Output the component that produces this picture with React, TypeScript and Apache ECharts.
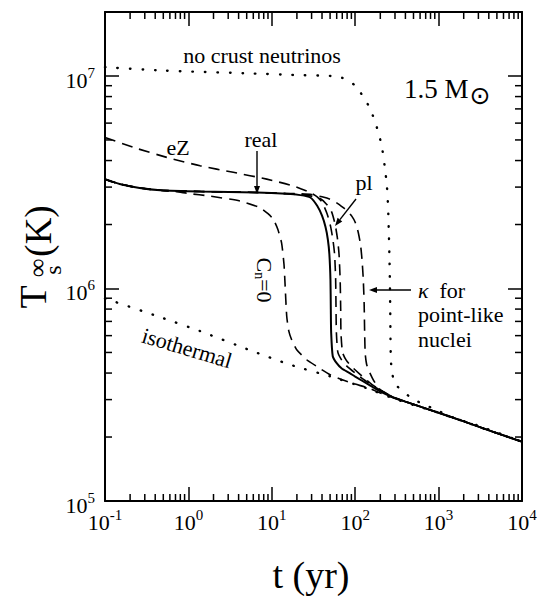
import React, { useEffect, useRef } from 'react';
import * as echarts from 'echarts';

const FONT = "'Liberation Serif', 'Times New Roman', serif";

// x: time t (yr), y: surface temperature T (K)
const X_MIN = 0.1;
const X_MAX = 1e4;
const Y_MIN = 1e5;
const Y_MAX = 2e7;

const realT = [0.1, 0.15, 0.26, 0.46, 1.4, 6.6, 15, 22, 29, 35, 40, 44, 47, 49, 50.5, 51, 51.5, 53.8, 60, 69, 86, 100, 150, 200, 300, 500, 1000, 2000, 4000, 10000];
const realK = [3.27e6, 3.1e6, 2.97e6, 2.9e6, 2.86e6, 2.83e6, 2.79e6, 2.75e6, 2.68e6, 2.45e6, 2.2e6, 1.95e6, 1.7e6, 1.45e6, 1.1e6, 8e5, 6.2e5, 4.8e5, 4.45e5, 4.2e5, 4.0e5, 3.85e5, 3.5e5, 3.27e5, 3.05e5, 2.85e5, 2.6e5, 2.37e5, 2.15e5, 1.9e5];

const ezT = [0.1, 0.22, 0.55, 1.38, 3.45, 8.7, 18, 28.7, 35, 40, 46, 50.8, 54, 56.6, 58.3, 58.9, 59.5, 62, 69, 80, 100, 130, 170, 220, 300, 500, 1000, 2000, 4000, 10000];
const ezK = [5.14e6, 4.61e6, 4.14e6, 3.78e6, 3.52e6, 3.27e6, 3.04e6, 2.83e6, 2.7e6, 2.55e6, 2.25e6, 1.95e6, 1.7e6, 1.45e6, 1.1e6, 8e5, 6.2e5, 5.0e5, 4.6e5, 4.3e5, 4.0e5, 3.7e5, 3.45e5, 3.25e5, 3.05e5, 2.85e5, 2.6e5, 2.37e5, 2.15e5, 1.9e5];

const plT = [0.1, 0.15, 0.26, 0.46, 1.4, 6.6, 15, 22, 30, 38, 45, 52, 57.5, 61.5, 64, 66, 67, 67.5, 70.5, 78, 90, 110, 150, 200, 300, 500, 1000, 2000, 4000, 10000];
const plK = [3.27e6, 3.1e6, 2.97e6, 2.9e6, 2.86e6, 2.83e6, 2.79e6, 2.76e6, 2.72e6, 2.65e6, 2.5e6, 2.3e6, 2.0e6, 1.7e6, 1.45e6, 1.1e6, 8e5, 6.2e5, 5.0e5, 4.6e5, 4.3e5, 4.0e5, 3.6e5, 3.32e5, 3.05e5, 2.85e5, 2.6e5, 2.37e5, 2.15e5, 1.9e5];

const kpT = [0.1, 0.15, 0.26, 0.46, 1.4, 6.6, 15, 22, 30, 40, 50, 60, 72, 82, 91, 100, 109, 116, 121, 125, 128, 130, 132, 137, 144, 160, 173, 198, 250, 300, 500, 1000, 2000, 4000, 10000];
const kpK = [3.27e6, 3.1e6, 2.97e6, 2.9e6, 2.86e6, 2.83e6, 2.8e6, 2.79e6, 2.77e6, 2.7e6, 2.63e6, 2.53e6, 2.4e6, 2.3e6, 2.19e6, 2.05e6, 1.83e6, 1.6e6, 1.35e6, 1.1e6, 8.5e5, 6e5, 4.9e5, 4.4e5, 4.15e5, 3.8e5, 3.6e5, 3.35e5, 3.17e5, 3.06e5, 2.85e5, 2.6e5, 2.37e5, 2.15e5, 1.9e5];

const cnT = [0.1, 0.15, 0.26, 0.46, 0.7, 1.0, 1.82, 4.16, 7.2, 9, 10.4, 11.8, 13.1, 14, 14.4, 15.1, 16, 17.3, 19.9, 26.2, 34.5, 50, 70, 100, 150, 200, 300, 500, 1000, 2000, 4000, 10000];
const cnK = [3.27e6, 3.1e6, 2.97e6, 2.9e6, 2.86e6, 2.8e6, 2.72e6, 2.58e6, 2.4e6, 2.25e6, 2.12e6, 1.9e6, 1.64e6, 1.3e6, 1.06e6, 7.4e5, 6.3e5, 5.74e5, 5.15e5, 4.62e5, 4.3e5, 3.93e5, 3.72e5, 3.55e5, 3.38e5, 3.22e5, 3.04e5, 2.85e5, 2.6e5, 2.37e5, 2.15e5, 1.9e5];

const isoT = [0.1, 0.46, 1.38, 5.5, 16.5, 50, 135, 300, 500, 1000, 2000, 4000, 10000];
const isoK = [8.98e5, 7.33e5, 6.3e5, 5.12e5, 4.38e5, 3.86e5, 3.4e5, 3.02e5, 2.83e5, 2.6e5, 2.37e5, 2.15e5, 1.9e5];

const ncT = [0.1, 0.5, 4.64, 20, 51, 70, 83.5, 100, 123, 143, 163, 185, 208, 225, 240, 248, 253, 257, 260, 263, 265, 268, 276, 295, 321, 380, 450, 600, 926, 1500, 3000, 10000];
const ncK = [1.1e7, 1.06e7, 1.03e7, 1.01e7, 1.0e7, 9.8e6, 9.5e6, 9.0e6, 8.07e6, 7.3e6, 6.5e6, 5.6e6, 4.69e6, 3.8e6, 3.04e6, 2.4e6, 1.84e6, 1.45e6, 1.14e6, 8e5, 5.8e5, 4.6e5, 4.02e5, 3.65e5, 3.46e5, 3.25e5, 3.1e5, 2.9e5, 2.69e5, 2.47e5, 2.26e5, 1.9e5];

// minor tick positions (2..9 x each decade)
const MULTS = [2, 3, 4, 5, 6, 7, 8, 9];
const X_DECADES = [0.1, 1, 10, 100, 1000];
const Y_DECADES = [1e5, 1e6];

const zip = (a: number[], b: number[]) => a.map((v, i) => [v, b[i]]);

const powLabel = (v: number) => {
  const e = Math.round(Math.log10(v));
  if (Math.abs(v - Math.pow(10, e)) / v > 1e-6) return '';
  return `{b|10}{s|${e}}`;
};

const labelRich = {
  b: { fontSize: 22, lineHeight: 30, fontFamily: FONT, color: '#000' },
  s: { fontSize: 15, lineHeight: 15, verticalAlign: 'top', fontFamily: FONT, color: '#000' },
};

const ANN = 22;

const txt = (x: number, y: number, text: string, size: number, align = 'center', extra: any = {}) => ({
  type: 'text',
  x,
  y,
  ...extra,
  style: {
    text,
    font: `${size}px ${FONT}`,
    fontSize: size,
    fontFamily: FONT,
    fill: '#000',
    align,
    verticalAlign: 'middle',
    ...(extra.style || {}),
  },
});

const arrow = (x1: number, y1: number, x2: number, y2: number) => {
  const dx = x2 - x1;
  const dy = y2 - y1;
  const len = Math.sqrt(dx * dx + dy * dy);
  const ux = dx / len;
  const uy = dy / len;
  const hl = 8;
  const hw = 3;
  const bx = x2 - ux * hl;
  const by = y2 - uy * hl;
  return [
    { type: 'line', shape: { x1, y1, x2: bx, y2: by }, style: { stroke: '#000', lineWidth: 1.4 } },
    {
      type: 'polygon',
      shape: { points: [[x2, y2], [bx - uy * hw, by + ux * hw], [bx + uy * hw, by - ux * hw]] },
      style: { fill: '#000' },
    },
  ];
};

export default function App() {
  const ref = useRef<HTMLDivElement>(null);
  useEffect(() => {
    if (!ref.current) return;
    const chart = echarts.init(ref.current, undefined, { renderer: 'svg' });

    const xMinor: number[][] = [];
    X_DECADES.forEach((d) => MULTS.forEach((m) => xMinor.push([m * d, Y_MIN])));
    const yMinor: number[][] = [];
    Y_DECADES.forEach((d) => MULTS.forEach((m) => yMinor.push([X_MIN, m * d])));

    const lineSeries = (name: string, data: number[][], type: any, width: number, extra: any = {}) => ({
      name,
      type: 'line',
      data,
      showSymbol: false,
      symbol: 'none',
      smooth: 0.2,
      silent: true,
      lineStyle: { color: '#000', width, type, ...extra },
      z: 3,
    });

    const tickLine = (x1: number, y1: number, x2: number, y2: number) => ({
      type: 'line',
      shape: { x1, y1, x2, y2 },
      style: { stroke: '#000', lineWidth: 1.5 },
    });

    const axisCommon = {
      type: 'log',
      logBase: 10,
      axisLine: { show: true, lineStyle: { color: '#000', width: 2 } },
      axisTick: { show: true, inside: true, length: 14, lineStyle: { color: '#000', width: 1.5 } },
      splitLine: { show: false },
      minorTick: { show: false },
    };

    const option: any = {
      animation: false,
      backgroundColor: '#fff',
      textStyle: { fontFamily: FONT },
      grid: { left: 105, right: 25, top: 12, bottom: 95, containLabel: false, outerBoundsMode: 'none' },
      xAxis: [
        {
          ...axisCommon,
          min: X_MIN,
          max: X_MAX,
          position: 'bottom',
          axisLabel: { show: true, margin: 6, formatter: powLabel, rich: labelRich, fontFamily: FONT, color: '#000' },
        },
        {
          ...axisCommon,
          min: X_MIN,
          max: X_MAX,
          position: 'top',
          axisLabel: { show: false },
        },
      ],
      yAxis: [
        {
          ...axisCommon,
          min: Y_MIN,
          max: Y_MAX,
          position: 'left',
          axisLabel: {
            show: true,
            margin: 10,
            formatter: powLabel,
            rich: labelRich,
            fontFamily: FONT,
            color: '#000',
            padding: [9, 0, 0, 0],
          },
        },
        {
          ...axisCommon,
          min: Y_MIN,
          max: Y_MAX,
          position: 'right',
          axisLabel: { show: false },
        },
      ],
      series: [
        {
          type: 'custom',
          silent: true,
          data: xMinor,
          clip: false,
          renderItem: (_p: any, api: any) => {
            const v = api.value(0);
            const b = api.coord([v, Y_MIN]);
            const t = api.coord([v, Y_MAX]);
            return {
              type: 'group',
              children: [tickLine(b[0], b[1], b[0], b[1] - 7), tickLine(t[0], t[1], t[0], t[1] + 7)],
            };
          },
        },
        {
          type: 'custom',
          silent: true,
          data: yMinor,
          clip: false,
          renderItem: (_p: any, api: any) => {
            const v = api.value(1);
            const l = api.coord([X_MIN, v]);
            const r = api.coord([X_MAX, v]);
            return {
              type: 'group',
              children: [tickLine(l[0], l[1], l[0] + 7, l[1]), tickLine(r[0], r[1], r[0] - 7, r[1])],
            };
          },
        },
        lineSeries('no crust neutrinos', zip(ncT, ncK), [0.5, 12], 2.4, { cap: 'round' }),
        lineSeries('isothermal', zip(isoT, isoK), [0.5, 12], 2.4, { cap: 'round' }),
        lineSeries('Cn=0', zip(cnT, cnK), [11, 7], 1.6),
        lineSeries('kappa point-like', zip(kpT, kpK), [11, 7], 1.6),
        lineSeries('eZ', zip(ezT, ezK), [11, 7], 1.6),
        lineSeries('pl', zip(plT, plK), [11, 7], 1.6),
        lineSeries('real', zip(realT, realK), 'solid', 2),
      ],
      graphic: [
        txt(262, 55, 'no crust neutrinos', ANN),
        txt(404, 89, '1.5 M', 27, 'left'),
        {
          type: 'text',
          x: 480,
          y: 95,
          style: {
            text: '\u2299',
            font: "25px 'DejaVu Sans'",
            fontSize: 25,
            fontFamily: 'DejaVu Sans',
            fill: '#000',
            align: 'center',
            verticalAlign: 'middle',
          },
        },
        txt(178, 147, 'eZ', ANN),
        txt(261, 139, 'real', ANN),
        ...arrow(257, 151, 257, 194),
        txt(364, 182, 'pl', ANN),
        ...arrow(356, 199, 335, 226),
        {
          type: 'text',
          x: 264,
          y: 280,
          rotation: -Math.PI / 2,
          style: {
            text: '{c|C}{n|n}{c|=0}',
            fill: '#000',
            font: `${ANN}px ${FONT}`,
            fontFamily: FONT,
            align: 'center',
            verticalAlign: 'middle',
            rich: {
              c: { fontSize: ANN, lineHeight: 24, fontFamily: FONT, fill: '#000' },
              n: { fontSize: 14, lineHeight: 14, verticalAlign: 'bottom', fontFamily: FONT, fill: '#000' },
            },
          },
        },
        {
          type: 'text',
          x: 418,
          y: 290,
          style: {
            text: '{k|\u03ba}  {f|for}',
            font: `${ANN}px ${FONT}`,
            fontSize: ANN,
            fontFamily: FONT,
            fill: '#000',
            align: 'left',
            verticalAlign: 'middle',
            rich: {
              k: { fontSize: ANN, fontStyle: 'italic', fontFamily: FONT, fill: '#000' },
              f: { fontSize: ANN, fontFamily: FONT, fill: '#000' },
            },
          },
        },
        ...arrow(411, 290, 369, 290),
        txt(418, 314, 'point-like', ANN, 'left'),
        txt(418, 339, 'nuclei', ANN, 'left'),
        txt(187, 348, 'isothermal', ANN, 'center', { rotation: -0.29 }),
        // y-axis title: T_s^inf (K)
        txt(33, 297, 'T', 38, 'center', { rotation: Math.PI / 2 }),
        txt(37, 268, '\u221e', 26, 'center', { rotation: Math.PI / 2 }),
        txt(53, 270, 's', 24, 'center', { rotation: Math.PI / 2 }),
        txt(38, 231, '(K)', 37, 'center', { rotation: Math.PI / 2 }),
        // x-axis title
        txt(311, 575, 't (yr)', 38),
      ],
    };

    chart.setOption(option);
    return () => chart.dispose();
  }, []);

  return (
    <div
      ref={ref}
      style={{ position: 'absolute', left: 0, top: 0, width: 547, height: 596, background: '#fff' }}
    />
  );
}
